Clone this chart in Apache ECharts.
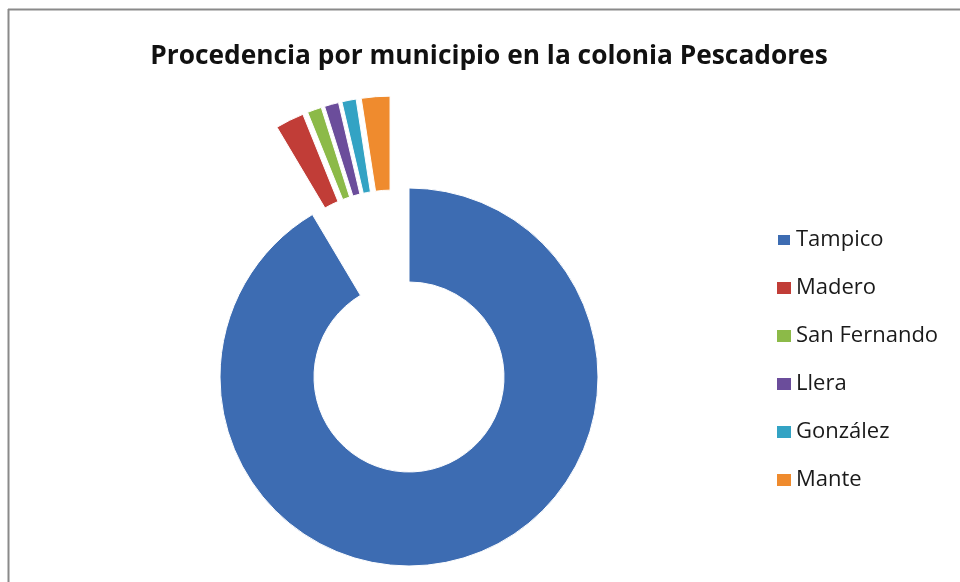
<!DOCTYPE html>
<html>
<head>
<meta charset="utf-8">
<script src="https://cdn.jsdelivr.net/npm/echarts@6/dist/echarts.min.js"></script>
<style>
  html, body { margin: 0; padding: 0; background: #ffffff; }
  #chart { width: 960px; height: 582px; }
</style>
</head>
<body>
<div id="chart"></div>
<script>
// Residents of colonia Pescadores by municipality of origin
const municipios = ['Tampico', 'Madero', 'San Fernando', 'Llera', 'González', 'Mante'];
const personas = [75, 2, 1, 1, 1, 2];
const colores = ['#3d6cb2', '#c13d37', '#8cba48', '#6b4d9b', '#33a3c4', '#ef8b2e'];
// slices drawn pulled out of the ring
const separado = [false, true, true, true, true, true];

const titulo = 'Procedencia por municipio en la colonia Pescadores';

const chart = echarts.init(document.getElementById('chart'), null, { renderer: 'canvas' });

// ring geometry
const centro = [409, 377];
const radios = [95, 189];
// the pulled-out group is shifted as a block, then fanned out a little
const centroSeparado = [393.5, 330];

function datos(mostrar) {
  return municipios.map((name, i) => ({
    name: name,
    value: personas[i],
    selected: mostrar(i),
    itemStyle: mostrar(i)
      ? { color: colores[i] }
      : { color: 'rgba(0,0,0,0)', borderColor: 'rgba(0,0,0,0)' }
  }));
}

const comunes = {
  type: 'pie',
  radius: radios,
  startAngle: 90,
  clockwise: true,
  avoidLabelOverlap: false,
  label: { show: false },
  labelLine: { show: false },
  emphasis: { disabled: true },
  itemStyle: { borderColor: '#ffffff', borderWidth: 1 }
};

chart.setOption({
  animation: false,
  backgroundColor: '#ffffff',
  graphic: [
    // chart-area frame
    { type: 'line', shape: { x1: 8, y1: 9.5, x2: 960, y2: 9.5 }, style: { stroke: '#8a8a8a', lineWidth: 2 } },
    { type: 'line', shape: { x1: 8.5, y1: 9, x2: 8.5, y2: 582 }, style: { stroke: '#8a8a8a', lineWidth: 2 } },
    {
      type: 'text',
      x: 489, y: 57,
      style: {
        text: titulo,
        fontFamily: 'Open Sans',
        fontWeight: 'bold',
        fontSize: 26.3,
        fill: '#111111',
        textAlign: 'center',
        textVerticalAlign: 'middle'
      }
    }
  ],
  legend: {
    orient: 'vertical',
    left: 776,
    top: 228,
    padding: 0,
    itemWidth: 14,
    itemHeight: 12,
    itemGap: 24,
    icon: 'rect',
    selectedMode: false,
    textStyle: {
      fontFamily: 'Open Sans',
      fontSize: 22,
      lineHeight: 24,
      color: '#1a1a1a'
    },
    data: municipios.map((name, i) => ({ name: name, itemStyle: { color: colores[i] } }))
  },
  series: [
    Object.assign({}, comunes, {
      name: 'anillo',
      center: centro,
      selectedMode: false,
      data: datos(i => !separado[i])
    }),
    Object.assign({}, comunes, {
      name: 'separados',
      center: centroSeparado,
      selectedMode: 'multiple',
      selectedOffset: 45,
      data: datos(i => separado[i])
    })
  ]
});
</script>
</body>
</html>
